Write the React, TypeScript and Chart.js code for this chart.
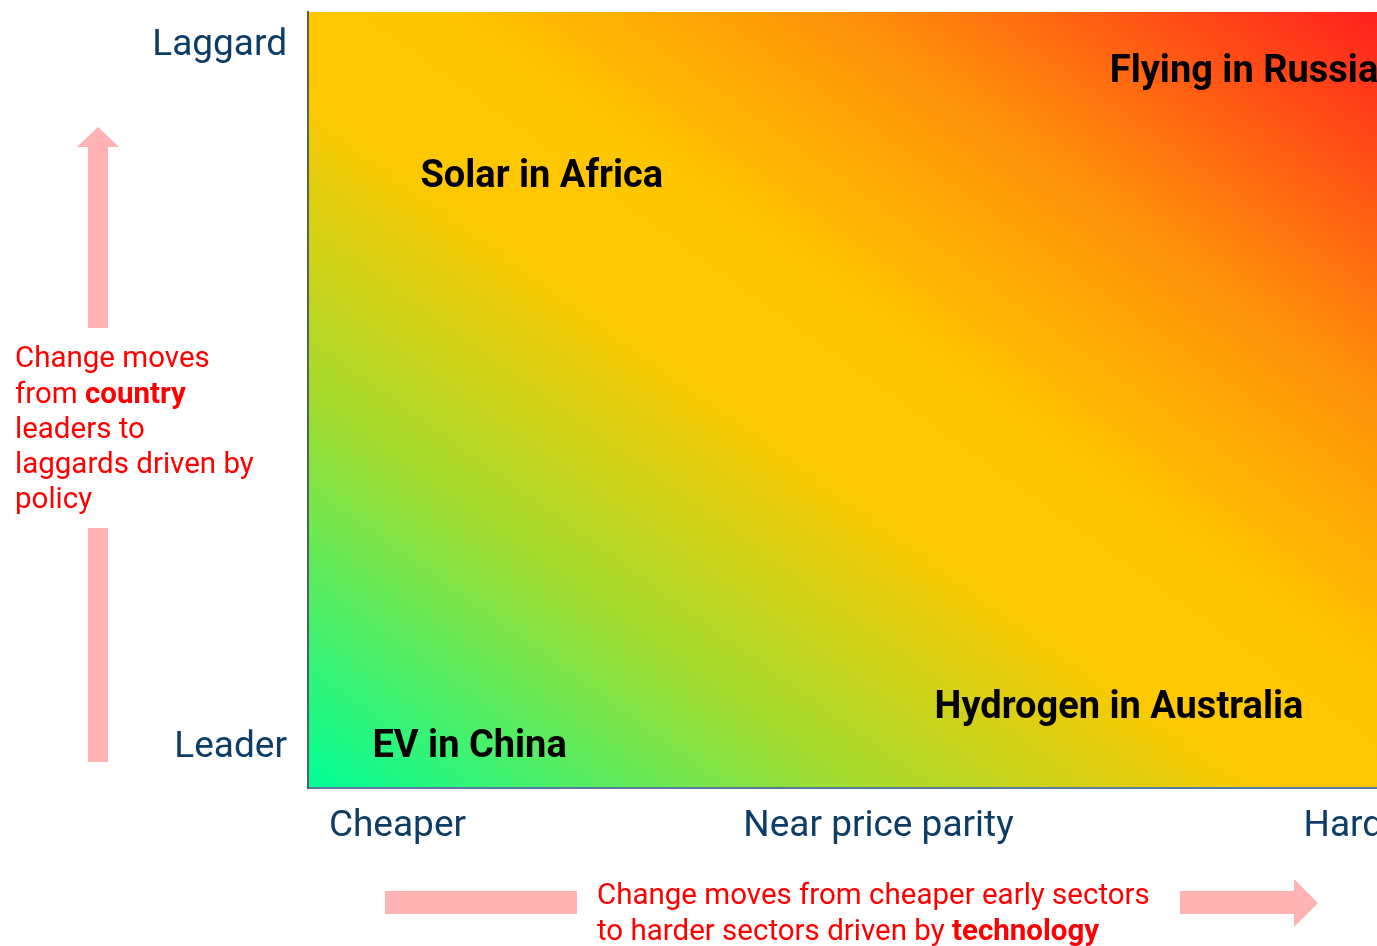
import React, { useEffect, useRef } from "react";
import { Chart, registerables } from "chart.js";

Chart.register(...registerables);

// ---- data ----
const xTickValues = [1, 5, 9];
const xTickLabels = ["Cheaper", "Near price parity", "Harder"];
const yTickValues = [1, 9];
const yTickLabels = ["Leader", "Laggard"];

const sectorLabels = ["EV in China", "Solar in Africa", "Hydrogen in Australia", "Flying in Russia"];
const sectorX = [1.6, 2.2, 7.0, 8.04];
const sectorY = [1.0, 7.5, 1.45, 8.7];

const leftNoteLines = [
  [{ t: "Change moves" }],
  [{ t: "from " }, { t: "country", b: true }],
  [{ t: "leaders to" }],
  [{ t: "laggards driven by" }],
  [{ t: "policy" }],
];
const bottomNoteLines = [
  [{ t: "Change moves from cheaper early sectors" }],
  [{ t: "to harder sectors driven by " }, { t: "technology", b: true }],
];

const FONT = "Roboto, 'Noto Sans', sans-serif";
const ARROW = "#FFB3B3";
const NOTE = "#FF0000";

function drawSegments(ctx: CanvasRenderingContext2D, segs: { t: string; b?: boolean }[], x: number, y: number) {
  let cx = x;
  for (const s of segs) {
    ctx.font = `${s.b ? "bold " : ""}29.5px ${FONT}`;
    ctx.fillText(s.t, cx, y);
    cx += ctx.measureText(s.t).width;
  }
}

const gradientPlugin = {
  id: "quadGradient",
  beforeDraw(chart: any) {
    const { ctx, chartArea } = chart;
    const { left, top, right, bottom } = chartArea;
    ctx.save();
    ctx.translate(left, top);
    ctx.scale(right - left, bottom - top);
    const g = ctx.createLinearGradient(0, 1, 1, 0);
    g.addColorStop(0, "#00FF99");
    g.addColorStop(0.25, "#A2DC30");
    g.addColorStop(0.45, "#FFC800");
    g.addColorStop(0.56, "#FFC600");
    g.addColorStop(0.75, "#FF900A");
    g.addColorStop(1, "#FF1E1E");
    ctx.fillStyle = g;
    ctx.fillRect(0, 0, 1, 1);
    ctx.restore();
  },
};

const labelPlugin = {
  id: "sectorLabels",
  afterDatasetsDraw(chart: any) {
    const { ctx } = chart;
    const meta = chart.getDatasetMeta(0);
    ctx.save();
    ctx.font = `bold 38px ${FONT}`;
    ctx.fillStyle = "#000000";
    ctx.textAlign = "center";
    ctx.textBaseline = "middle";
    meta.data.forEach((el: any, i: number) => {
      ctx.fillText(sectorLabels[i], el.x, el.y);
    });
    ctx.restore();
  },
};

const notesPlugin = {
  id: "notes",
  afterDraw(chart: any) {
    const ctx: CanvasRenderingContext2D = chart.ctx;
    ctx.save();
    ctx.fillStyle = ARROW;
    // vertical arrow
    ctx.beginPath();
    ctx.moveTo(77, 147);
    ctx.lineTo(98, 127);
    ctx.lineTo(119, 147);
    ctx.closePath();
    ctx.fill();
    ctx.fillRect(88, 147, 20, 181);
    ctx.fillRect(88, 528, 20, 234);
    // horizontal arrow
    ctx.fillRect(385, 891, 192, 23);
    ctx.fillRect(1180, 891, 115, 23);
    ctx.beginPath();
    ctx.moveTo(1294, 879);
    ctx.lineTo(1318, 903);
    ctx.lineTo(1294, 927);
    ctx.closePath();
    ctx.fill();

    ctx.fillStyle = NOTE;
    ctx.textAlign = "left";
    ctx.textBaseline = "alphabetic";
    const leftBase = [367, 403, 438, 473, 508];
    leftNoteLines.forEach((l, i) => drawSegments(ctx, l, 15, leftBase[i]));
    const botBase = [904, 940];
    bottomNoteLines.forEach((l, i) => drawSegments(ctx, l, 597, botBase[i]));
    ctx.restore();
  },
};

export default function App() {
  const ref = useRef<HTMLCanvasElement | null>(null);
  useEffect(() => {
    let chart: Chart | null = null;
    let cancelled = false;
    const make = () => {
      if (cancelled || !ref.current) return;
      chart = new Chart(ref.current, {
        type: "scatter",
        data: {
          datasets: [
            {
              data: sectorX.map((x, i) => ({ x, y: sectorY[i] })),
              pointRadius: 0,
              pointHoverRadius: 0,
            },
          ],
        },
        options: {
          animation: false,
          responsive: false,
          devicePixelRatio: 1,
          events: [],
          layout: { padding: { left: 0, top: 12, right: 110, bottom: 0 } },
          plugins: { legend: { display: false }, tooltip: { enabled: false } },
          scales: {
            x: {
              type: "linear",
              min: 0.256,
              max: 9.254,
              grid: { display: false, drawTicks: false },
              border: { display: true, color: "#587B9B", width: 2 },
              afterBuildTicks: (axis: any) => {
                axis.ticks = xTickValues.map((v) => ({ value: v }));
              },
              afterFit: (axis: any) => {
                axis.height = 158;
                axis.paddingLeft = 0;
                axis.paddingRight = 0;
              },
              ticks: {
                autoSkip: false,
                maxRotation: 0,
                padding: 17,
                color: "#0D3D66",
                font: { family: FONT, size: 37 },
                callback: (v: any) => {
                  const i = xTickValues.indexOf(Number(v));
                  return i >= 0 ? xTickLabels[i] : "";
                },
              },
            },
            y: {
              type: "linear",
              min: 0.544,
              max: 9.387,
              grid: { display: false, drawTicks: false },
              border: { display: true, color: "#4E6456", width: 2 },
              afterBuildTicks: (axis: any) => {
                axis.ticks = yTickValues.map((v) => ({ value: v }));
              },
              afterFit: (axis: any) => {
                axis.width = 308;
                axis.paddingTop = 0;
                axis.paddingBottom = 0;
              },
              ticks: {
                autoSkip: false,
                padding: 21,
                color: "#0D3D66",
                font: { family: FONT, size: 37 },
                callback: (v: any) => {
                  const i = yTickValues.indexOf(Number(v));
                  return i >= 0 ? yTickLabels[i] : "";
                },
              },
            },
          },
        },
        plugins: [gradientPlugin, labelPlugin, notesPlugin],
      } as any);
    };
    const fonts: any = (document as any).fonts;
    if (fonts && fonts.load) {
      Promise.all([
        fonts.load(`29px Roboto`),
        fonts.load(`bold 29px Roboto`),
        fonts.load(`bold 38px Roboto`),
        fonts.load(`37px Roboto`),
      ])
        .catch(() => {})
        .then(make);
    } else {
      make();
    }
    return () => {
      cancelled = true;
      if (chart) chart.destroy();
    };
  }, []);

  return (
    <div
      style={{
        position: "fixed",
        left: 0,
        top: 0,
        width: 1377,
        height: 946,
        overflow: "hidden",
        background: "#ffffff",
      }}
    >
      <canvas ref={ref} width={1500} height={946} style={{ display: "block", width: 1500, height: 946 }} />
    </div>
  );
}
